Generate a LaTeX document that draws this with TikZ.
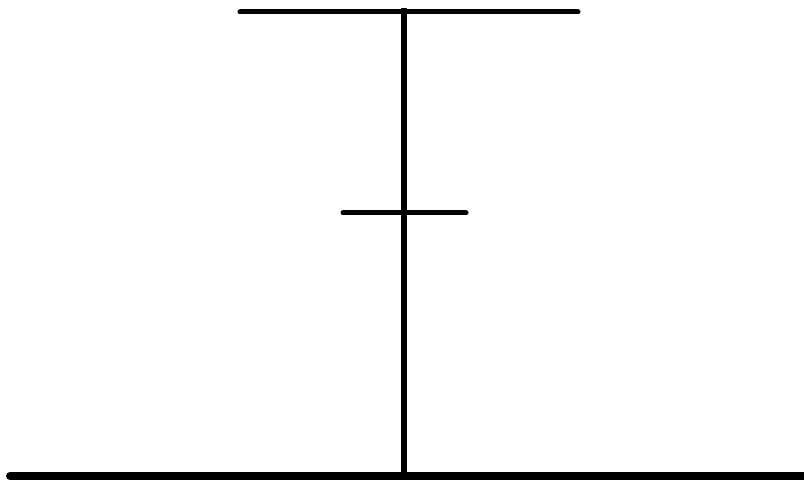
\documentclass[tikz,border=0pt]{standalone}
\usepackage{tikz}
\tikzset{
  stem/.style={
    draw,
    black,
    line width=6pt
  },
  bar/.style={
    draw,
    black,
    line width=5pt,
    line cap=round
  },
  ground/.style={
    draw,
    black,
    line width=8pt,
    line cap=round
  }
}

\begin{document}
\begin{tikzpicture}[x=1pt,y=-1pt]
        \useasboundingbox (0,0) rectangle (804,481);
        \coordinate (topl) at (240,12);
        \coordinate (topr) at (578,12);
        \coordinate (midl) at (343,213);
        \coordinate (midr) at (466,213);
        \coordinate (base) at (403.5,476);
        \coordinate (apex) at (403.5,8);
        \coordinate (gndl) at (10,476);
        \coordinate (gndr) at (810,476);

        \draw[bar] (topl) -- (topr);
        \draw[bar] (midl) -- (midr);
        \draw[stem] (apex) -- (base);
        \draw[ground] (gndl) -- (gndr);
\end{tikzpicture}
\end{document}
